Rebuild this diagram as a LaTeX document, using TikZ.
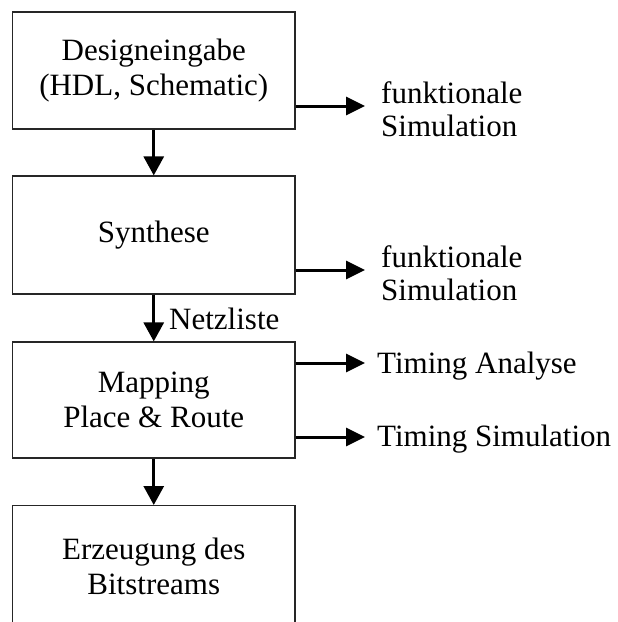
\documentclass[tikz,border=0pt]{standalone}
\usepackage{fontspec}
\setmainfont{Liberation Serif}
\usetikzlibrary{arrows.meta}
\begin{document}
\begin{tikzpicture}[x=1pt,y=-1pt,
  every node/.style={font=\fontsize{31}{35}\selectfont},
  stage/.style={draw=black!85,line width=1.2pt,minimum width=282.5pt,
    align=center,inner sep=0pt},
  flow/.style={line width=3pt,-{Triangle[length=19pt,width=20pt]}},
  side/.style={flow,-{Triangle[length=19pt,width=18pt]}},
  note/.style={anchor=west,align=left,inner sep=0pt,
    font=\fontsize{31}{33.5}\selectfont}]
\useasboundingbox (0,0) rectangle (618,622);
\begin{scope}
\clip (0,0) rectangle (618,622);
% process stages
\node[stage,minimum height=117pt] (design) at (153.75,70.5)
  {Designeingabe\\(HDL, Schematic)};
\node[stage,minimum height=118pt] (synth) at (153.75,235) {Synthese};
\node[stage,minimum height=116pt] (map) at (153.75,400)
  {Mapping\\Place \& Route};
\node[stage,minimum height=160pt,anchor=north] (bits) at (153.75,505) {};
\node (bitstext) at (153.75,566) [align=center,inner sep=0pt]
  {Erzeugung des\\Bitstreams};
% main flow
\draw[flow] (design.south) -- (synth.north);
\draw[flow] (synth.south) -- (map.north);
\node[anchor=west,inner sep=0pt] (netz) at (169,319) {Netzliste};
\draw[flow] (map.south) -- (bits.north);
% side outputs
\coordinate (o1) at (365,106);
\coordinate (o2) at (365,270);
\coordinate (o3) at (365,363);
\coordinate (o4) at (365,437);
\draw[side] (design.east |- o1) -- (o1);
\draw[side] (synth.east |- o2) -- (o2);
\draw[side] (map.east |- o3) -- (o3);
\draw[side] (map.east |- o4) -- (o4);
\node[note] (sim1) at (381,109) {funktionale\\Simulation};
\node[note] (sim2) at (381,273) {funktionale\\Simulation};
\node[note] (ta) at (377,366) {Timing Analyse};
\node[note] (ts) at (377,439) {Timing Simulation};
\end{scope}
\end{tikzpicture}
\end{document}
